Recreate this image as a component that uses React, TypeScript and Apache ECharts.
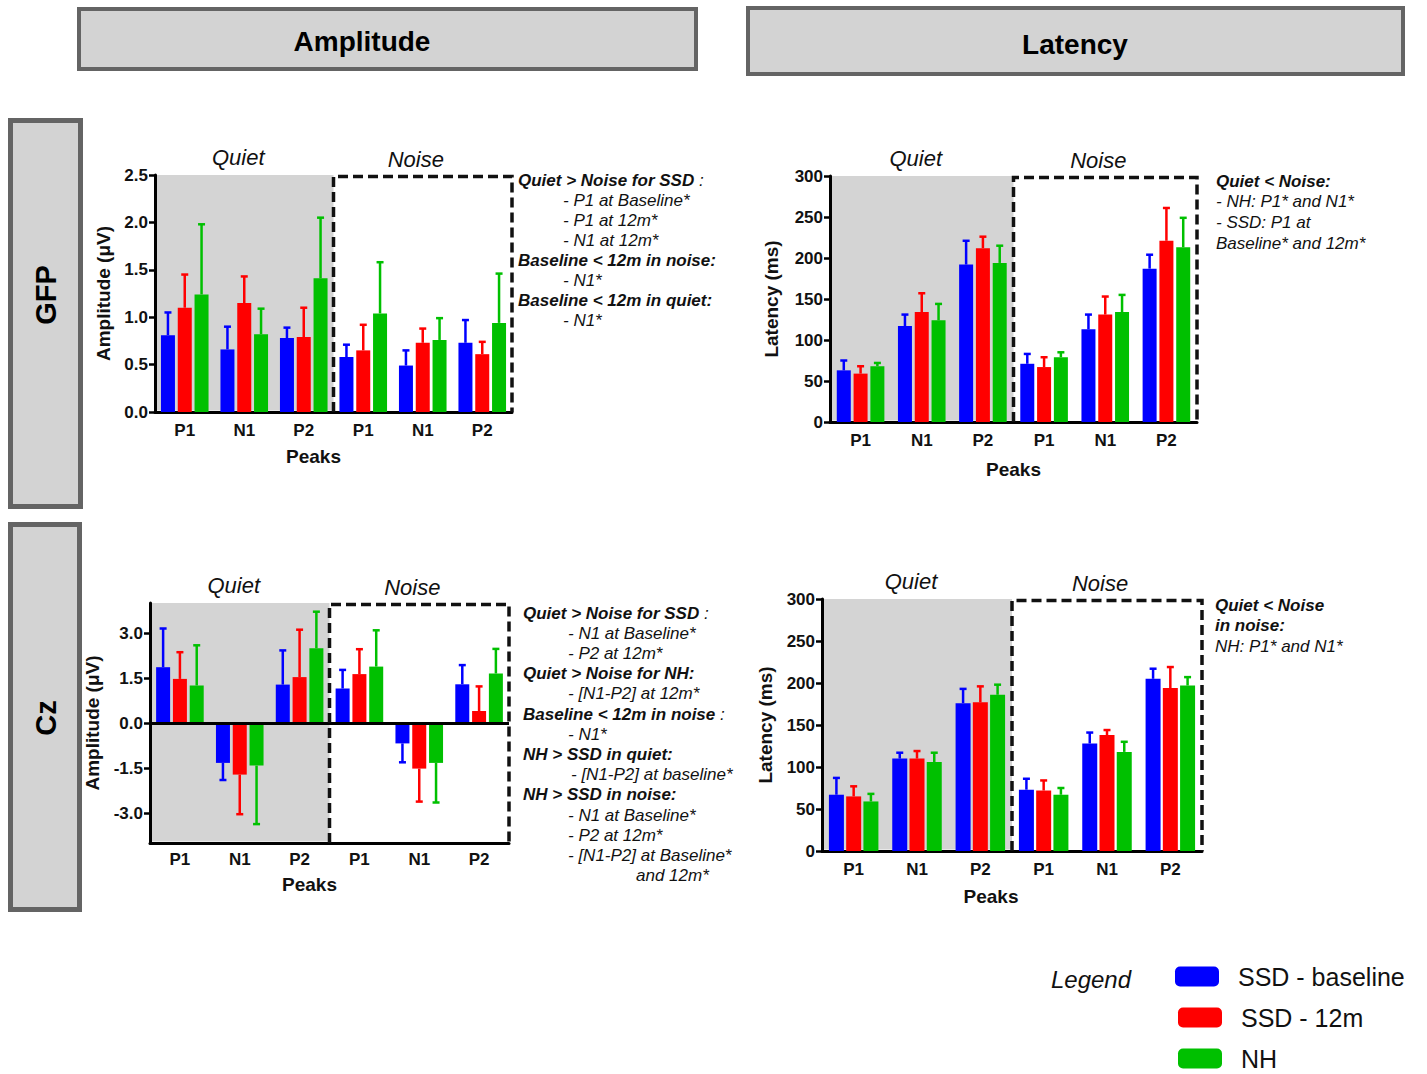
import React, { useEffect, useRef } from "react";
import * as echarts from "echarts";

// ---------------- DATA ----------------
const categories = ["P1", "N1", "P2", "P1", "N1", "P2"]; // Quiet P1,N1,P2 | Noise P1,N1,P2
const groupNames = ["SSD - baseline", "SSD - 12m", "NH"];
const groupColors = ["#0000ff", "#ff0000", "#00c000"];

// GFP amplitude (µV)
const gfpAmpBaseline = [0.81, 0.66, 0.78, 0.58, 0.49, 0.73];
const gfpAmpBaselineSD = [0.24, 0.24, 0.11, 0.13, 0.16, 0.24];
const gfpAmp12m = [1.1, 1.15, 0.79, 0.65, 0.73, 0.61];
const gfpAmp12mSD = [0.35, 0.28, 0.31, 0.27, 0.15, 0.13];
const gfpAmpNH = [1.24, 0.82, 1.41, 1.04, 0.76, 0.94];
const gfpAmpNHSD = [0.74, 0.27, 0.64, 0.54, 0.23, 0.52];

// GFP latency (ms)
const gfpLatBaseline = [63, 117, 192, 71, 113, 187];
const gfpLatBaselineSD = [12, 14, 29, 12, 18, 17];
const gfpLat12m = [59, 134, 212, 67, 131, 221];
const gfpLat12mSD = [9, 23, 14, 12, 22, 40];
const gfpLatNH = [68, 124, 194, 79, 134, 213];
const gfpLatNHSD = [4, 20, 21, 6, 21, 36];

// Cz amplitude (µV)
const czAmpBaseline = [1.86, -1.33, 1.28, 1.15, -0.68, 1.29];
const czAmpBaselineSD = [1.29, 0.57, 1.14, 0.62, 0.63, 0.64];
const czAmp12m = [1.47, -1.72, 1.53, 1.63, -1.52, 0.4];
const czAmp12mSD = [0.89, 1.32, 1.58, 0.83, 1.1, 0.82];
const czAmpNH = [1.25, -1.42, 2.49, 1.88, -1.33, 1.65];
const czAmpNHSD = [1.34, 1.95, 1.22, 1.21, 1.32, 0.82];

// Cz latency (ms)
const czLatBaseline = [67, 110, 176, 73, 128, 205];
const czLatBaselineSD = [20, 7, 17, 13, 13, 12];
const czLat12m = [65, 110, 177, 72, 138, 194];
const czLat12mSD = [12, 9, 19, 12, 6, 25];
const czLatNH = [59, 106, 186, 67, 118, 197];
const czLatNHSD = [9, 11, 12, 8, 12, 10];

const ampTicks = [0, 0.5, 1, 1.5, 2, 2.5];
const latTicks = [0, 50, 100, 150, 200, 250, 300];
const czAmpTicks = [-3, -1.5, 0, 1.5, 3];

// Annotation texts: [kind, text, trailing]
const gfpAmpNotes: [string, string, string?][] = [
  ["h", "Quiet > Noise for SSD", " :"],
  ["i", "- P1 at Baseline*"],
  ["i", "- P1 at 12m*"],
  ["i", "- N1 at 12m*"],
  ["h", "Baseline < 12m in noise:"],
  ["i", "- N1*"],
  ["h", "Baseline < 12m in quiet:"],
  ["i", "- N1*"],
];
const gfpLatNotes: [string, string, string?][] = [
  ["h", "Quiet < Noise:"],
  ["p", "- NH: P1* and N1*"],
  ["p", "- SSD: P1 at"],
  ["p", "Baseline* and 12m*"],
];
const czAmpNotes: [string, string, string?][] = [
  ["h", "Quiet > Noise for SSD", " :"],
  ["i", "- N1 at Baseline*"],
  ["i", "- P2 at 12m*"],
  ["h", "Quiet > Noise for NH:"],
  ["i", "- [N1-P2] at 12m*"],
  ["h", "Baseline < 12m in noise", " :"],
  ["i", "- N1*"],
  ["h", "NH > SSD in quiet:"],
  ["j", "- [N1-P2] at baseline*"],
  ["h", "NH > SSD in noise:"],
  ["i", "- N1 at Baseline*"],
  ["i", "- P2 at 12m*"],
  ["i", "- [N1-P2] at Baseline*"],
  ["k", "and 12m*"],
];
const czLatNotes: [string, string, string?][] = [
  ["h", "Quiet < Noise"],
  ["h", "in noise:"],
  ["p", "NH: P1* and N1*"],
];

const FONT = "'Liberation Sans', Arial, Helvetica, sans-serif";

export default function App() {
  const ref = useRef<HTMLDivElement>(null);

  useEffect(() => {
    if (!ref.current) return;
    const chart = echarts.init(ref.current, undefined, { renderer: "svg" });

    const panels = [
      {
        means: [gfpAmpBaseline, gfpAmp12m, gfpAmpNH],
        sds: [gfpAmpBaselineSD, gfpAmp12mSD, gfpAmpNHSD],
        left: 155, top: 175, width: 357, height: 237,
        min: 0, max: 2.5, ticks: ampTicks, decimals: 1,
        yName: "Amplitude (μV)", yNameGap: 42, xNameGap: 35, xNameShift: 40,
        barWidth: 14, gap: 0.2, labelMargin: 10,
        notes: gfpAmpNotes, noteX: 518, noteIndent: 563, noteY: 180, noteStep: 20.1,
      },
      {
        means: [gfpLatBaseline, gfpLat12m, gfpLatNH],
        sds: [gfpLatBaselineSD, gfpLat12mSD, gfpLatNHSD],
        left: 830, top: 176, width: 367, height: 246,
        min: 0, max: 300, ticks: latTicks, decimals: 0,
        yName: "Latency (ms)", yNameGap: 49, xNameGap: 38, xNameShift: 0,
        barWidth: 14, gap: 0.2, labelMargin: 10,
        notes: gfpLatNotes, noteX: 1216, noteIndent: 1216, noteY: 181, noteStep: 20.7,
      },
      {
        means: [czAmpBaseline, czAmp12m, czAmpNH],
        sds: [czAmpBaselineSD, czAmp12mSD, czAmpNHSD],
        left: 150, top: 603, width: 359, height: 240,
        min: -4, max: 4, ticks: czAmpTicks, decimals: 1,
        yName: "Amplitude (μV)", yNameGap: 48, xNameGap: 32, xNameShift: 40,
        barWidth: 14, gap: 0.2, labelMargin: 8, zeroLine: true,
        notes: czAmpNotes, noteX: 523, noteIndent: 568, noteY: 613, noteStep: 20.2,
      },
      {
        means: [czLatBaseline, czLat12m, czLatNH],
        sds: [czLatBaselineSD, czLat12mSD, czLatNHSD],
        left: 822, top: 599, width: 380, height: 252,
        min: 0, max: 300, ticks: latTicks, decimals: 0,
        yName: "Latency (ms)", yNameGap: 47, xNameGap: 36, xNameShift: 42,
        barWidth: 15, gap: 0.15, labelMargin: 10,
        notes: czLatNotes, noteX: 1215, noteIndent: 1215, noteY: 605, noteStep: 20.8,
      },
    ];

    const grid = panels.map((p) => ({
      left: p.left, top: p.top, width: p.width, height: p.height, containLabel: false,
    }));

    const xAxis = panels.map((p, i) => ({
      type: "category",
      gridIndex: i,
      data: categories,
      axisLine: { onZero: false, lineStyle: { color: "#000", width: 3 } },
      axisTick: { alignWithLabel: true, length: 6, lineStyle: { color: "#000", width: 2.5 } },
      axisLabel: { fontFamily: FONT, fontWeight: "bold", fontSize: 17, color: "#111", margin: p.labelMargin },
      name: "Peaks",
      nameLocation: "middle",
      nameGap: p.xNameGap,
      nameTextStyle: {
        fontFamily: FONT, fontWeight: "bold", fontSize: 19, color: "#111",
        padding: [0, p.xNameShift, 0, 0],
      },
      splitLine: { show: false },
    }));

    const yAxis = panels.map((p, i) => ({
      type: "value",
      gridIndex: i,
      min: p.min,
      max: p.max,
      axisLine: { show: true, onZero: false, lineStyle: { color: "#000", width: 3 } },
      axisTick: { show: true, length: 6, lineStyle: { color: "#000", width: 2.5 }, customValues: p.ticks },
      axisLabel: {
        fontFamily: FONT, fontWeight: "bold", fontSize: 17, color: "#111", margin: 7,
        customValues: p.ticks,
        formatter: (v: number) => v.toFixed(p.decimals),
      },
      splitLine: { show: false },
      name: p.yName,
      nameLocation: "middle",
      nameRotate: 90,
      nameGap: p.yNameGap,
      nameTextStyle: { fontFamily: FONT, fontWeight: "bold", fontSize: 19, color: "#111" },
    }));

    const series: any[] = [];
    panels.forEach((p, i) => {
      p.means.forEach((vals, k) => {
        const bar: any = {
          type: "bar",
          name: groupNames[k],
          xAxisIndex: i,
          yAxisIndex: i,
          data: vals,
          barWidth: p.barWidth,
          barGap: `${p.gap * 100}%`,
          itemStyle: { color: groupColors[k] },
          z: 3,
        };
        if (p.zeroLine && k === 0) {
          bar.markLine = {
            silent: true,
            symbol: ["none", "none"],
            label: { show: false },
            lineStyle: { color: "#000", width: 3, type: "solid" },
            data: [{ yAxis: 0 }],
            z: 6,
          };
        }
        series.push(bar);
        const offset = (k - 1) * p.barWidth * (1 + p.gap);
        const color = groupColors[k];
        series.push({
          type: "custom",
          name: groupNames[k] + " SD",
          xAxisIndex: i,
          yAxisIndex: i,
          z: 4,
          data: vals.map((m, j) => [j, m, m + (m < 0 ? -1 : 1) * p.sds[k][j]]),
          encode: { x: 0, y: 1 },
          renderItem: (params: any, api: any) => {
            const x = api.value(0);
            const m = api.value(1);
            const e = api.value(2);
            const p0 = api.coord([x, m]);
            const p1 = api.coord([x, e]);
            const cx = p0[0] + offset;
            return {
              type: "group",
              children: [
                { type: "line", shape: { x1: cx, y1: p0[1], x2: cx, y2: p1[1] }, style: { stroke: color, lineWidth: 2.5 } },
                { type: "line", shape: { x1: cx - 3.5, y1: p1[1], x2: cx + 3.5, y2: p1[1] }, style: { stroke: color, lineWidth: 2.5 } },
              ],
            };
          },
        });
      });
    });

    const graphic: any[] = [];
    // Header boxes
    graphic.push(
      { type: "rect", shape: { x: 79, y: 9, width: 617, height: 60 }, style: { fill: "#d3d3d3", stroke: "#646464", lineWidth: 4 } },
      { type: "text", x: 362, y: 41, style: { text: "Amplitude", fontFamily: FONT, fontWeight: "bold", fontSize: 28, fill: "#000", align: "center", verticalAlign: "middle" } },
      { type: "rect", shape: { x: 748, y: 8, width: 655, height: 66 }, style: { fill: "#d3d3d3", stroke: "#646464", lineWidth: 4 } },
      { type: "text", x: 1075, y: 44, style: { text: "Latency", fontFamily: FONT, fontWeight: "bold", fontSize: 28, fill: "#000", align: "center", verticalAlign: "middle" } },
      { type: "rect", shape: { x: 10.5, y: 120.5, width: 70, height: 386 }, style: { fill: "#d3d3d3", stroke: "#646464", lineWidth: 5 } },
      { type: "text", x: 46, y: 295, rotation: Math.PI / 2, style: { text: "GFP", fontFamily: FONT, fontWeight: "bold", fontSize: 29, fill: "#000", align: "center", verticalAlign: "middle" } },
      { type: "rect", shape: { x: 10.5, y: 524.5, width: 69, height: 385 }, style: { fill: "#d3d3d3", stroke: "#646464", lineWidth: 5 } },
      { type: "text", x: 46, y: 718, rotation: Math.PI / 2, style: { text: "Cz", fontFamily: FONT, fontWeight: "bold", fontSize: 29, fill: "#000", align: "center", verticalAlign: "middle" } },
    );

    panels.forEach((p) => {
      const half = p.width / 2;
      const bottom = p.top + p.height;
      const right = p.left + p.width;
      graphic.push({
        type: "rect",
        z: -10,
        shape: { x: p.left + 1.5, y: p.top, width: half - 1.5, height: p.height - 1.5 },
        style: { fill: "#d4d4d4" },
      });
      graphic.push({
        type: "polyline",
        z: 10,
        shape: { points: [[p.left + half, bottom], [p.left + half, p.top + 1.5], [right, p.top + 1.5], [right, bottom]] },
        style: { stroke: "#111", lineWidth: 3.5, lineDash: [10, 5], fill: null },
      });
      graphic.push({
        type: "text", x: p.left + p.width / 4 - 6, y: p.top - 18,
        style: { text: "Quiet", fontFamily: FONT, fontStyle: "italic", fontSize: 22, fill: "#111", align: "center", verticalAlign: "middle" },
      });
      graphic.push({
        type: "text", x: p.left + (3 * p.width) / 4 - 7, y: p.top - 16,
        style: { text: "Noise", fontFamily: FONT, fontStyle: "italic", fontSize: 22, fill: "#111", align: "center", verticalAlign: "middle" },
      });
      p.notes.forEach((n, j) => {
        const [kind, text, tail] = n;
        let x = p.noteX;
        if (kind === "i") x = p.noteIndent;
        if (kind === "j") x = p.noteIndent + 3;
        if (kind === "k") x = p.noteIndent + 68;
        const bold = kind === "h";
        const content = bold ? `{b|${text}}` + (tail ? `{r|${tail}}` : "") : `{r|${text}}`;
        graphic.push({
          type: "text",
          x,
          y: p.noteY + j * p.noteStep,
          style: {
            text: content,
            fill: "#111",
            verticalAlign: "middle",
            rich: {
              b: { fontFamily: FONT, fontWeight: "bold", fontStyle: "italic", fontSize: 17, fill: "#111" },
              r: { fontFamily: FONT, fontStyle: "italic", fontSize: 17, fill: "#111" },
            },
          },
        });
      });
    });

    graphic.push({
      type: "text", x: 1091, y: 979,
      style: { text: "Legend", fontFamily: FONT, fontStyle: "italic", fontSize: 24, fill: "#111", align: "center", verticalAlign: "middle" },
    });

    // One legend component per group so the items stack without wrapping
    const legend = groupNames.map((name, k) => ({
      orient: "horizontal",
      left: k === 0 ? 1175 : 1178,
      top: 964 + k * 41,
      padding: 0,
      icon: "roundRect",
      itemWidth: 44,
      itemHeight: 20,
      selectedMode: false,
      data: [name],
      textStyle: { fontFamily: FONT, fontSize: 25, color: "#111", padding: [0, 0, 0, 14] },
    }));

    chart.setOption({
      animation: false,
      backgroundColor: "#ffffff",
      textStyle: { fontFamily: FONT },
      grid,
      xAxis,
      yAxis,
      series,
      graphic,
      legend,
    });

    return () => chart.dispose();
  }, []);

  return (
    <div
      ref={ref}
      style={{ position: "absolute", left: 0, top: 0, width: 1427, height: 1074, background: "#fff" }}
    />
  );
}
